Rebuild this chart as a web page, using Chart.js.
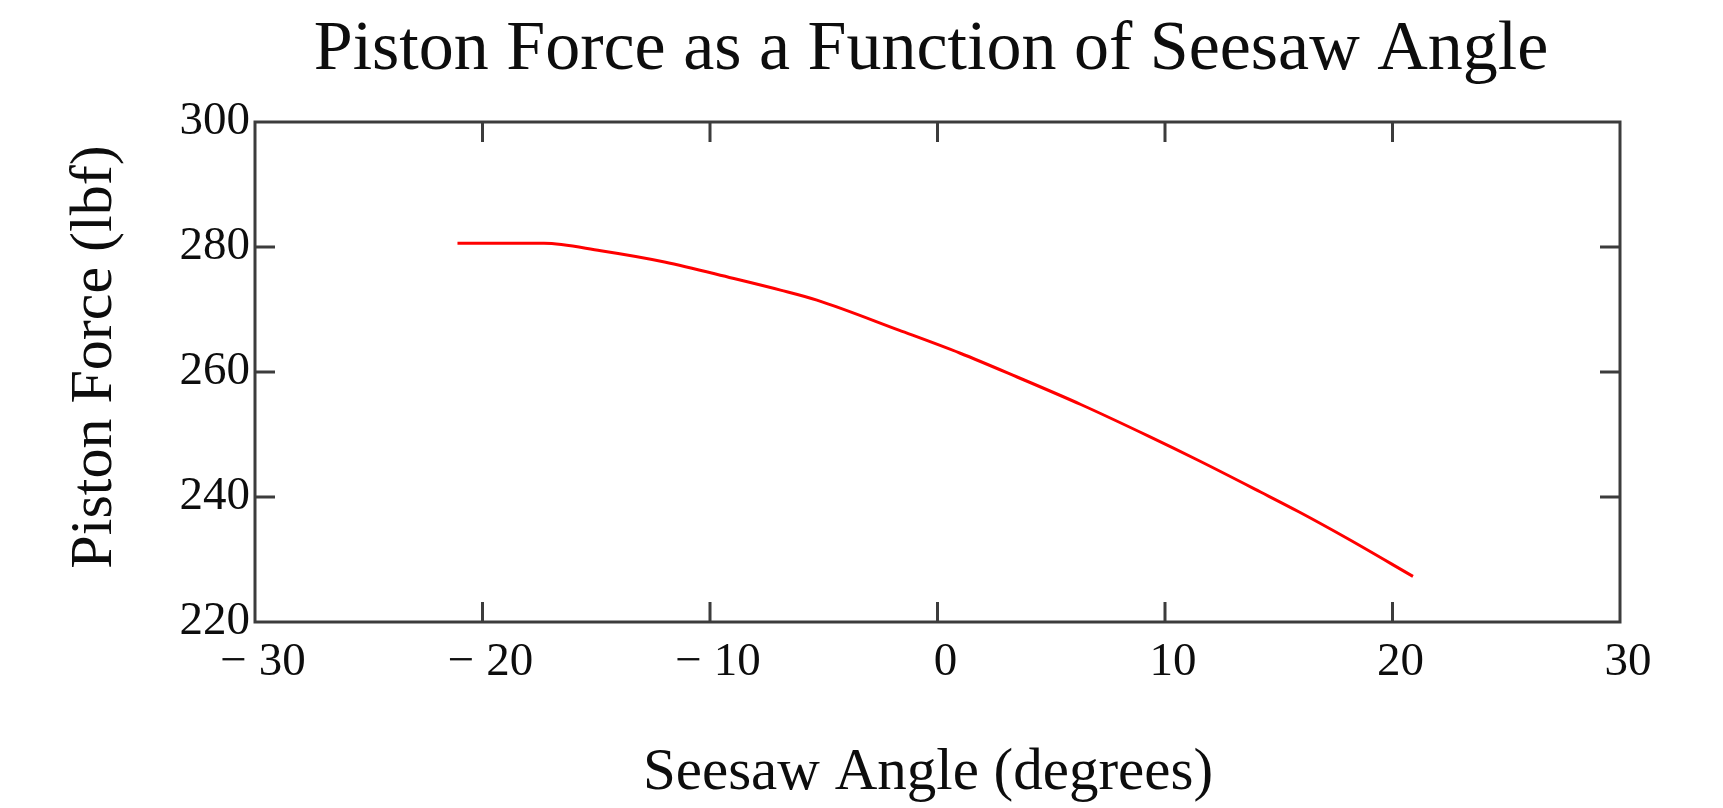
<!DOCTYPE html>
<html>
<head>
<meta charset="utf-8">
<script src="https://cdn.jsdelivr.net/npm/chart.js@4.4.1/dist/chart.umd.min.js"></script>
<style>
  html, body { margin: 0; padding: 0; background: #ffffff; }
  #wrap { width: 1723px; height: 808px; position: relative; }
</style>
</head>
<body>
<div id="wrap"><canvas id="c" width="1723" height="808"></canvas></div>
<script>
// ---- Data ----
const chartTitle = "Piston Force as a Function of Seesaw Angle";
const xTitle = "Seesaw Angle (degrees)";
const yTitle = "Piston Force (lbf)";
const angles = [-21.1, -17.3, -14.8, -12.0, -9.0, -6.9, -5.3, -1.7, 1.0, 3.5, 6.3, 9.3, 11.5, 14.2, 15.9, 18.0, 20.9];
const force  = [280.6, 280.6, 279.4, 277.6, 275.0, 273.1, 271.5, 266.7, 263.0, 259.2, 254.8, 249.7, 245.8, 240.8, 237.6, 233.4, 227.3];
const xTicks = [-30, -20, -10, 0, 10, 20, 30];
const yTicks = [220, 240, 260, 280, 300];

const FONT = "'Liberation Serif', 'Times New Roman', serif";
const INK = "#0d0d0d";
const FRAME = "#3c3c3c";

const points = angles.map((a, i) => ({ x: a, y: force[i] }));

const framePlugin = {
  id: 'framePlugin',
  afterDraw(chart) {
    const { ctx, chartArea: a, scales } = chart;
    ctx.save();
    ctx.strokeStyle = FRAME;
    ctx.lineWidth = 3;
    ctx.lineCap = 'butt';
    ctx.strokeRect(a.left, a.top, a.right - a.left, a.bottom - a.top);
    const tl = 20;
    ctx.beginPath();
    scales.x.ticks.forEach(t => {
      if (t.value === scales.x.min || t.value === scales.x.max) return;
      const px = scales.x.getPixelForValue(t.value);
      ctx.moveTo(px, a.bottom); ctx.lineTo(px, a.bottom - tl);
      ctx.moveTo(px, a.top); ctx.lineTo(px, a.top + tl);
    });
    scales.y.ticks.forEach(t => {
      if (t.value === scales.y.min || t.value === scales.y.max) return;
      const py = scales.y.getPixelForValue(t.value);
      ctx.moveTo(a.left, py); ctx.lineTo(a.left + tl, py);
      ctx.moveTo(a.right, py); ctx.lineTo(a.right - tl, py);
    });
    ctx.stroke();

    // titles
    ctx.fillStyle = INK;
    ctx.textAlign = 'center';
    ctx.textBaseline = 'alphabetic';
    ctx.font = "70px " + FONT;
    ctx.fillText(chartTitle, 931, 69);
    ctx.font = "59px " + FONT;
    ctx.fillText(xTitle, 928, 789);
    ctx.translate(111, 357);
    ctx.rotate(-Math.PI / 2);
    ctx.font = "60px " + FONT;
    ctx.fillText(yTitle, 0, 0);
    ctx.restore();
  }
};

function fmt(v) {
  return v < 0 ? "\u2212 " + Math.abs(v) : String(v);
}

new Chart(document.getElementById('c'), {
  type: 'line',
  data: {
    datasets: [{
      data: points,
      borderColor: '#ff0000',
      borderWidth: 3,
      pointRadius: 0,
      fill: false,
      cubicInterpolationMode: 'monotone'
    }]
  },
  options: {
    responsive: false,
    animation: false,
    devicePixelRatio: 1,
    layout: { padding: { top: 122, left: 0, right: 103, bottom: 0 } },
    plugins: { legend: { display: false }, title: { display: false }, tooltip: { enabled: false } },
    scales: {
      x: {
        type: 'linear',
        min: xTicks[0], max: xTicks[xTicks.length - 1],
        afterBuildTicks(s) { s.ticks = xTicks.map(v => ({ value: v })); },
        afterFit(s) { s.height = 186; },
        grid: { display: false, drawTicks: false },
        border: { display: false },
        ticks: {
          padding: 12,
          labelOffset: 8,
          maxRotation: 0,
          autoSkip: false,
          color: INK,
          font: { family: FONT, size: 47 },
          callback: v => fmt(v)
        }
      },
      y: {
        type: 'linear',
        min: yTicks[0], max: yTicks[yTicks.length - 1],
        afterBuildTicks(s) { s.ticks = yTicks.map(v => ({ value: v })); },
        afterFit(s) { s.width = 255; },
        grid: { display: false, drawTicks: false },
        border: { display: false },
        ticks: {
          padding: 5,
          autoSkip: false,
          color: INK,
          font: { family: FONT, size: 47 },
          callback: v => fmt(v)
        }
      }
    }
  },
  plugins: [framePlugin]
});
</script>
</body>
</html>
